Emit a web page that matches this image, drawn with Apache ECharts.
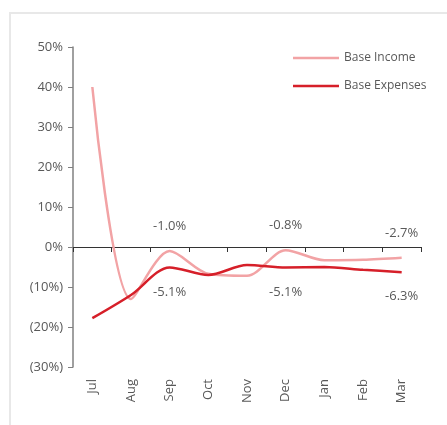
<!DOCTYPE html>
<html>
<head>
<meta charset="utf-8">
<script src="https://cdn.jsdelivr.net/npm/echarts@6/dist/echarts.min.js"></script>
<style>
  html, body { margin: 0; padding: 0; background: #fff; }
  #chart { width: 447px; height: 425px; }
</style>
</head>
<body>
<div id="chart"></div>
<script>
// months on the x axis
var months = ['Jul', 'Aug', 'Sep', 'Oct', 'Nov', 'Dec', 'Jan', 'Feb', 'Mar'];
// values in percent
var baseIncome = [40, -13, -1.0, -6.7, -7.2, -0.8, -3.3, -3.2, -2.7];
var baseExpenses = [-17.8, -12, -5.1, -7, -4.5, -5.1, -5.0, -5.7, -6.3];
// which months get a value label
var labelled = [2, 5, 8];

var fontFam = '"Open Sans", "Noto Sans", sans-serif';
var textGrey = '#595959';

function pct(v) {
    if (v < 0) return '(' + Math.abs(v) + '%)';
    return v + '%';
}

function withLabels(values, pos) {
    return values.map(function(v, i) {
        if (labelled.indexOf(i) < 0) return v;
        return {
            value: v,
            label: {
                show: true,
                position: pos,
                distance: 18,
                formatter: v.toFixed(1) + '%',
                color: textGrey,
                fontSize: 13,
                fontFamily: fontFam
            }
        };
    });
}

var chart = echarts.init(document.getElementById('chart'));

var option = {
    backgroundColor: '#fff',
    animation: false,
    graphic: [
        {
            type: 'polyline',
            shape: { points: [[10, 425], [10, 13], [447, 13]] },
            style: { stroke: '#e8e8e8', lineWidth: 2, fill: null },
            silent: true
        }
    ],
    grid: { left: 73, right: 26, top: 47, bottom: 58 },
    legend: {
        orient: 'vertical',
        left: 288,
        top: 47,
        itemWidth: 46,
        itemHeight: 2.5,
        itemGap: 16,
        icon: 'rect',
        textStyle: { color: textGrey, fontSize: 12, fontFamily: fontFam },
        data: ['Base Income', 'Base Expenses']
    },
    xAxis: [
        {
            type: 'category',
            data: months,
            axisLine: { onZero: true, lineStyle: { color: '#333', width: 1 } },
            axisTick: { show: true, length: 5, inside: false, lineStyle: { color: '#333' } },
            axisLabel: { show: false }
        },
        {
            type: 'category',
            data: months,
            position: 'bottom',
            axisLine: { show: false, onZero: false },
            axisTick: { show: false },
            axisLabel: {
                rotate: 90,
                margin: 12,
                color: textGrey,
                fontSize: 13,
                fontFamily: fontFam
            }
        }
    ],
    yAxis: {
        type: 'value',
        min: -30,
        max: 50,
        interval: 10,
        splitLine: { show: false },
        axisLine: { show: true, lineStyle: { color: '#808080', width: 1.5 } },
        axisTick: { show: true, length: 5, lineStyle: { color: '#808080' } },
        axisLabel: {
            formatter: pct,
            margin: 10,
            color: textGrey,
            fontSize: 13,
            fontFamily: fontFam
        }
    },
    series: [
        {
            name: 'Base Income',
            type: 'line',
            smooth: 0.3,
            showSymbol: true,
            symbol: 'circle',
            symbolSize: 0,
            color: '#F2A3A5',
            lineStyle: { width: 2.5, color: '#F2A3A5' },
            data: withLabels(baseIncome, 'top')
        },
        {
            name: 'Base Expenses',
            type: 'line',
            smooth: 0.3,
            showSymbol: true,
            symbol: 'circle',
            symbolSize: 0,
            color: '#D61F29',
            lineStyle: { width: 2.5, color: '#D61F29' },
            data: withLabels(baseExpenses, 'bottom')
        }
    ]
};

chart.setOption(option);
</script>
</body>
</html>
